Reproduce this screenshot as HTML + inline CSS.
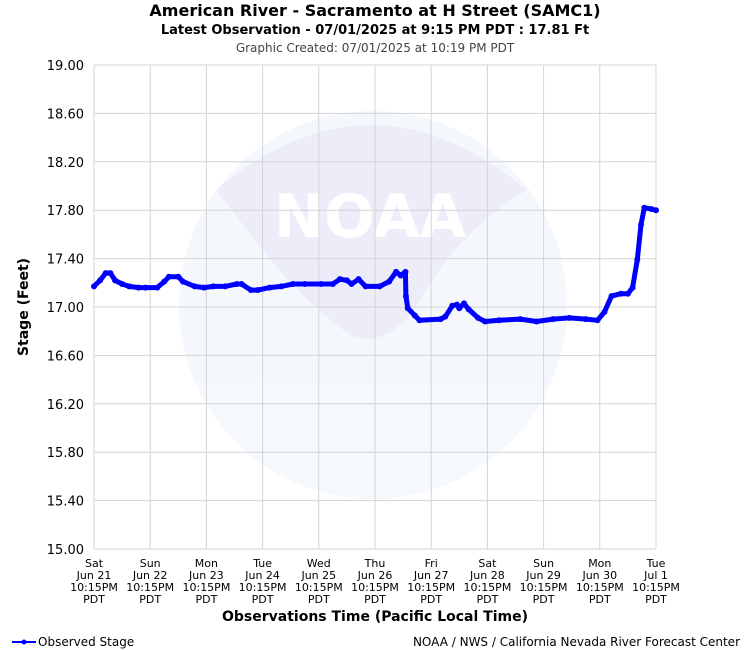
<!DOCTYPE html>
<html><head><meta charset="utf-8"><style>
body{margin:0;background:#fff;font-family:"DejaVu Sans",sans-serif}
svg{display:block}
</style></head><body>
<svg width="750" height="650" font-family="DejaVu Sans, sans-serif">
<g opacity="0.45">
<circle cx="373" cy="305" r="194" fill="#e8f1fc"/>
<path d="M216,190 Q370,60 527,190 Q460,230 420,300 Q390,350 350,335 Q300,300 255,240 Z" fill="#d8d8f4"/>
<text x="370" y="237" text-anchor="middle" font-size="60" font-weight="bold" fill="#fff">NOAA</text>
</g>
<g id="grid"></g>
<g id="yt" font-size="13" fill="#000" text-anchor="end"></g>
<g id="xt" font-size="11" fill="#000" text-anchor="middle"></g>
<g id="series"></g>
<text x="375" y="16" text-anchor="middle" font-size="16" font-weight="bold">American River - Sacramento at H Street (SAMC1)</text>
<text x="375" y="34" text-anchor="middle" font-size="13" font-weight="bold">Latest Observation - 07/01/2025 at 9:15 PM PDT : 17.81 Ft</text>
<text x="375" y="52" text-anchor="middle" font-size="12" fill="#444">Graphic Created: 07/01/2025 at 10:19 PM PDT</text>
<text transform="translate(28,307) rotate(-90)" text-anchor="middle" font-size="14" font-weight="bold">Stage (Feet)</text>
<text x="375" y="621" text-anchor="middle" font-size="14" font-weight="bold">Observations Time (Pacific Local Time)</text>
<g>
<line x1="12" y1="642" x2="36" y2="642" stroke="#0000ff" stroke-width="2"/>
<circle cx="24" cy="642" r="2.5" fill="#0000ff"/>
<text x="38" y="646" font-size="12">Observed Stage</text>
</g>
<text x="740" y="646" text-anchor="end" font-size="12">NOAA / NWS / California Nevada River Forecast Center</text>
</svg>
<script>
const yTicks=[15.0,15.4,15.8,16.2,16.6,17.0,17.4,17.8,18.2,18.6,19.0];
const xDays=["Sat","Sun","Mon","Tue","Wed","Thu","Fri","Sat","Sun","Mon","Tue"];
const xDates=["Jun 21","Jun 22","Jun 23","Jun 24","Jun 25","Jun 26","Jun 27","Jun 28","Jun 29","Jun 30","Jul 1"];
const hours=[0,2.6,5,7,9,12,15,19,22,27,30,32,36,38,43,47,51,56,61,63,67,70,75,80,85,90,97,102,105,108,110,113,116,122,126,129,131,133,133.2,134,137,139,148,150,153,155,156,158,160,164,167,173,182,189,196,203,210,215,218,221,225,228,230,232,233.6,235,238,240];
const stage=[17.17,17.22,17.28,17.28,17.22,17.19,17.17,17.16,17.16,17.16,17.21,17.25,17.25,17.21,17.17,17.16,17.17,17.17,17.19,17.19,17.14,17.14,17.16,17.17,17.19,17.19,17.19,17.19,17.23,17.22,17.19,17.23,17.17,17.17,17.21,17.29,17.26,17.29,17.09,16.99,16.93,16.89,16.90,16.92,17.01,17.02,16.99,17.03,16.98,16.91,16.88,16.89,16.90,16.88,16.90,16.91,16.90,16.89,16.96,17.09,17.11,17.11,17.16,17.39,17.68,17.82,17.81,17.80];
const NS="http://www.w3.org/2000/svg";
const X0=94,X1=656,Y0=549,Y1=65;
const xs=h=>X0+(X1-X0)*h/240;
const ys=v=>Y0-(Y0-Y1)*(v-15)/4;
function mk(t,a,p){const e=document.createElementNS(NS,t);for(const k in a)e.setAttribute(k,a[k]);p.appendChild(e);return e;}
const grid=document.getElementById('grid'),yt=document.getElementById('yt'),xt=document.getElementById('xt'),ser=document.getElementById('series');
yTicks.forEach(v=>{
 const l=mk('line',{x1:X0,x2:X1,y1:ys(v),y2:ys(v),stroke:'#d4d4d4','stroke-width':1},grid);
 
 
 const t=mk('text',{x:84,y:ys(v)+5},yt);t.textContent=v.toFixed(2);
 
 
});
xDays.forEach((d,i)=>{
 const x=xs(i*24);
 const l=mk('line',{x1:x,x2:x,y1:Y1,y2:Y0,stroke:'#d4d4d4','stroke-width':1},grid);
 
 
 const lines=[d,xDates[i],"10:15PM","PDT"];
 lines.forEach((s,j)=>{const t=mk('text',{x:x,y:567+j*12},xt);t.textContent=s;
  
  });
});
const pts=hours.map((h,i)=>xs(h).toFixed(1)+','+ys(stage[i]).toFixed(1)).join(' ');
const pl=mk('polyline',{points:pts,fill:'none',stroke:'#0000ff','stroke-width':5,'stroke-linejoin':'round','stroke-linecap':'round'},ser);


hours.forEach((h,i)=>{const c=mk('circle',{cx:xs(h),cy:ys(stage[i]),r:3,fill:'#0000ff'},ser);
 
 });
</script>
</body></html>
